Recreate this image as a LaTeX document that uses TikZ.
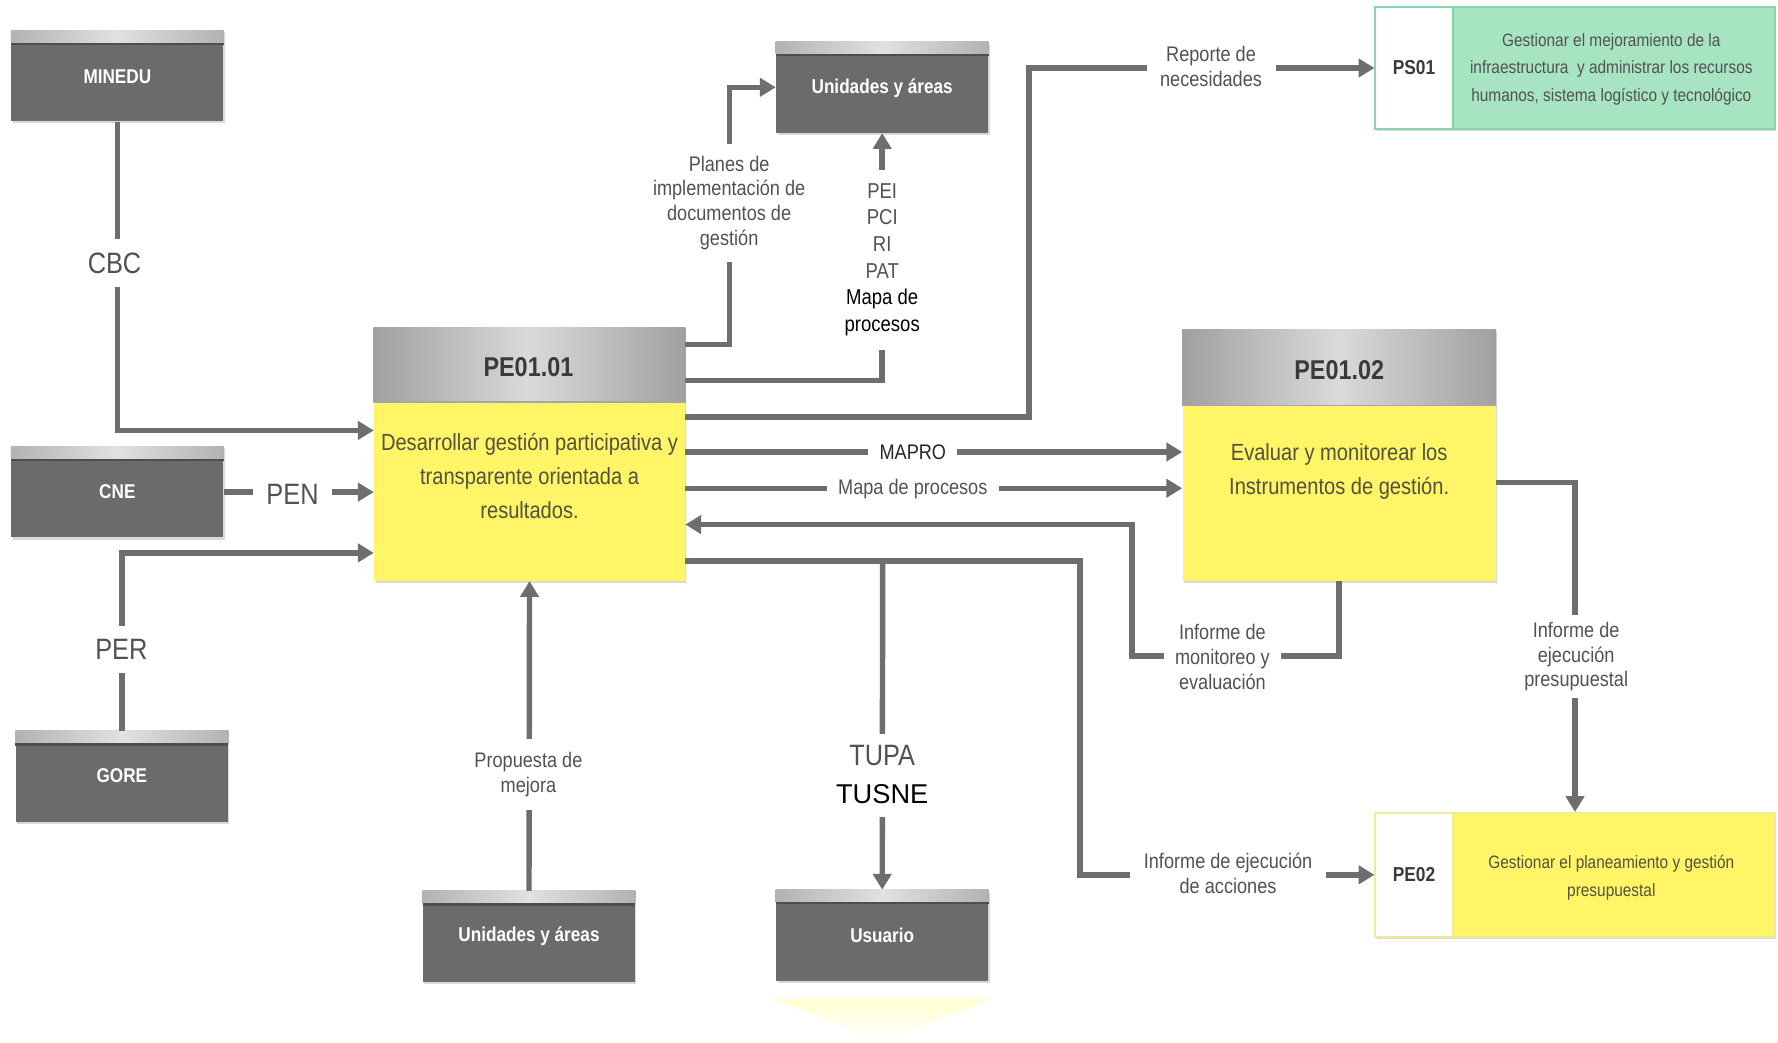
\documentclass[tikz,border=0pt]{standalone}
\usepackage{fontspec}
\setmainfont{Liberation Sans}[FakeStretch=0.86]
\newfontfamily\widefont{Liberation Sans}
\usetikzlibrary{arrows.meta,shadows,calc}

\definecolor{entgray}{RGB}{109,106,106}
\definecolor{bandedge}{RGB}{178,178,178}
\definecolor{bandmid}{RGB}{225,225,225}
\definecolor{bandline}{RGB}{78,78,78}
\definecolor{hdredge}{RGB}{160,160,160}
\definecolor{hdrmid}{RGB}{218,218,218}
\definecolor{procyellow}{RGB}{255,245,102}
\definecolor{yellowedge}{RGB}{240,236,150}
\definecolor{psgreen}{RGB}{166,228,194}
\definecolor{psborder}{RGB}{140,210,170}
\definecolor{connc}{RGB}{110,110,110}
\definecolor{labtext}{RGB}{82,82,82}
\definecolor{bodytext}{RGB}{82,82,62}
\definecolor{titletext}{RGB}{58,58,58}

\begin{document}
\begin{tikzpicture}[x=0.5pt,y=-0.5pt,
  entity/.style={rectangle, fill=entgray, minimum width=93.5pt, minimum height=40pt,
    inner sep=0pt, text=white, font=\bfseries\fontsize{8.8}{10}\selectfont,
    drop shadow={shadow xshift=0.6pt, shadow yshift=-0.9pt, opacity=0.3}},
  procbox/.style={rectangle, fill=procyellow, inner sep=0pt,
    drop shadow={shadow xshift=0.6pt, shadow yshift=-0.9pt, opacity=0.3}},
  ptitle/.style={font=\bfseries\fontsize{12}{14}\selectfont, text=titletext, inner sep=0pt},
  pbody/.style={align=center, font=\fontsize{10.3}{15}\selectfont, text=bodytext, inner sep=0pt},
  conn/.style={draw=connc, line width=2.4pt, -{Triangle[length=7pt,width=8pt]}},
  lab/.style={fill=white, align=center, text=labtext, inner xsep=4pt, inner ysep=3pt,
    font=\fontsize{9.3}{11}\selectfont},
  biglab/.style={fill=white, align=center, text=labtext, inner xsep=4pt, inner ysep=6pt,
    font=\fontsize{13}{15}\selectfont},
  sidebox/.style={rectangle, inner sep=0pt, line width=0.9pt,
    drop shadow={shadow xshift=0.6pt, shadow yshift=-0.9pt, opacity=0.3}},
  sidecode/.style={font=\bfseries\fontsize{8.9}{10}\selectfont, text=titletext},
  sidetext/.style={align=center, font=\fontsize{7.9}{12}\selectfont, text=labtext, inner sep=0pt}
]
\useasboundingbox (0,0) rectangle (1568,919);
\fill[white] (0,0) rectangle (1568,919);

% external entities
\node[entity] (minedu) at (103.5,67) {};
\node[entity] (cne) at (103.5,434) {};
\node[entity] (gore) at (107.5,685) {};
\node[entity] (ua) at (778,77) {};
\node[entity] (ub) at (466.5,826) {};
\node[entity] (usr) at (778,825) {};

% light bar on top of each entity
\foreach \n in {minedu,cne,gore,ua,ub,usr}{
  \shade[left color=bandedge, right color=bandedge, middle color=bandmid]
    (\n.north west) rectangle ($(\n.north east)+(0,11)$);
  \fill[bandline] ($(\n.north west)+(0,11)$) rectangle ($(\n.north east)+(0,13)$);
}
\node[text=white, font=\bfseries\fontsize{8.8}{10}\selectfont] (mineduL) at ($(minedu)+(0,1)$) {MINEDU};
\node[text=white, font=\bfseries\fontsize{8.8}{10}\selectfont] (cneL) at ($(cne)+(0,0)$) {CNE};
\node[text=white, font=\bfseries\fontsize{8.8}{10}\selectfont] (goreL) at ($(gore)+(0,-1)$) {GORE};
\node[text=white, font=\bfseries\fontsize{8.8}{10}\selectfont] (uaL) at ($(ua)+(0,1)$) {Unidades y áreas};
\node[text=white, font=\bfseries\fontsize{8.8}{10}\selectfont] (ubL) at ($(ub)+(0,0)$) {Unidades y áreas};
\node[text=white, font=\bfseries\fontsize{8.8}{10}\selectfont] (usrL) at ($(usr)+(0,0)$) {Usuario};

% process PE01.01
\node[procbox, minimum width=137pt, minimum height=111.5pt] (p1) at (467,400.5) {};
\shade[left color=hdredge, right color=hdredge, middle color=hdrmid]
  (p1.north west) rectangle ($(p1.north east)+(0,66)$);
\draw[gray!70, line width=0.8pt] ($(p1.north west)+(0,66)$) -- ($(p1.north east)+(0,66)$);
\node[ptitle] (p1t) at (466,324) {PE01.01};
\node[pbody] (p1b) at (467,420) {Desarrollar gestión participativa y\\transparente orientada a\\resultados.};

% process PE01.02
\node[procbox, minimum width=138pt, minimum height=110.5pt] (p2) at (1181,401.5) {};
\shade[left color=hdredge, right color=hdredge, middle color=hdrmid]
  (p2.north west) rectangle ($(p2.north east)+(0,67)$);
\draw[gray!70, line width=0.8pt] ($(p2.north west)+(0,67)$) -- ($(p2.north east)+(0,67)$);
\node[ptitle] (p2t) at (1181,326) {PE01.02};
\node[pbody] (p2b) at (1181,416) {Evaluar y monitorear los\\Instrumentos de gestión.};

% support process PS01
\node[sidebox, fill=psgreen, draw=psborder, minimum width=176pt, minimum height=54pt] (ps01) at (1389,60) {};
\node[rectangle, fill=white, draw=psborder, line width=0.9pt, minimum width=34pt, minimum height=54pt,
  anchor=west, sidecode] (ps01c) at (ps01.west) {PS01};
\node[sidetext] (ps01t) at (1421,61) {Gestionar el mejoramiento de la\\infraestructura \ y administrar los recursos\\humanos, sistema logístico y tecnológico};

% strategic process PE02
\node[sidebox, fill=procyellow, draw=yellowedge, minimum width=176pt, minimum height=54.5pt] (pe02) at (1389,771.5) {};
\node[rectangle, fill=white, draw=yellowedge, line width=0.9pt, minimum width=34pt, minimum height=54.5pt,
  anchor=west, sidecode] (pe02c) at (pe02.west) {PE02};
\node[sidetext, text=bodytext] (pe02t) at (1421,774) {Gestionar el planeamiento y gestión\\presupuestal};

% pale marker under Usuario
\shade[top color=yellow!18, bottom color=white] (682,881) -- (874,881) -- (778,919) -- cycle;

% connectors
\draw[conn] (minedu.south) |- ($(p1.north west)+(0,91)$);
\draw[conn] (cne.east) -- (cne.east -| p1.west);
\draw[conn] (gore.north) |- ($(p1.north west)+(0,199)$);
\draw[conn] ($(p1.north east)+(0,15)$) -- ++(39,0) |- (ua.west);
\draw[conn] ($(p1.north east)+(0,47)$) -| (ua.south);
\draw[conn] ($(p1.north east)+(0,79)$) -- ++(303,0) |- (ps01c.west);
\draw[conn] ($(p1.north east)+(0,110)$) -- ($(p2.north west)+(0,108)$);
\draw[conn] ($(p1.north east)+(0,142)$) -- ($(p2.north west)+(0,140)$);
\draw[conn] (p2.south) -- ++(0,66) -| ($(p1.north east)+(394,174)$) -- ($(p1.north east)+(0,174)$);
\draw[conn] ($(p1.north east)+(0,206)$) -- ++(348,0) |- (pe02c.west);
\draw[conn] ($(p1.north east)+(174,206)$) -- (usr.north);
\draw[conn] ($(p2.north east)+(0,135)$) -| (pe02.north);
\draw[conn] (ub.north) -- (p1.south);

% connector labels
\node[biglab] (cbc) at (101,232) {CBC};
\node[biglab, inner xsep=6pt] (pen) at (258,436) {PEN};
\node[biglab] (per) at (107,573) {PER};
\node[lab, inner ysep=5pt] (planes) at (643,179) {Planes de\\implementación de\\documentos de\\gestión};
\node[lab, font=\fontsize{9.5}{11.75}\selectfont, inner ysep=6pt] (docs) at (778,229)
  {PEI\\PCI\\RI\\PAT\\\textcolor{black}{Mapa de}\\\textcolor{black}{procesos}};
\node[lab, inner xsep=6pt] (reporte) at (1068,59) {Reporte de\\necesidades};
\node[lab, text=black!85, inner xsep=5pt] (mapro) at (805,399) {MAPRO};
\node[lab, inner xsep=5pt] (mapa) at (805,431) {Mapa de procesos};
\node[lab, inner xsep=5pt] (monit) at (1078,579) {Informe de\\monitoreo y\\evaluación};
\node[lab, inner xsep=6pt] (ejec) at (1083,770) {Informe de ejecución\\de acciones};
\node[lab] (presup) at (1390,579) {Informe de\\ejecución\\presupuestal};
\node[lab, inner ysep=6pt] (prop) at (466,683) {Propuesta de\\mejora};
\node[fill=white, text=black, font=\widefont\fontsize{12}{14}\selectfont, inner ysep=6pt] (tusne) at (778,700) {TUSNE};
\node[biglab, inner ysep=5pt] (tupa) at (778,666) {TUPA};
\end{tikzpicture}
\end{document}
